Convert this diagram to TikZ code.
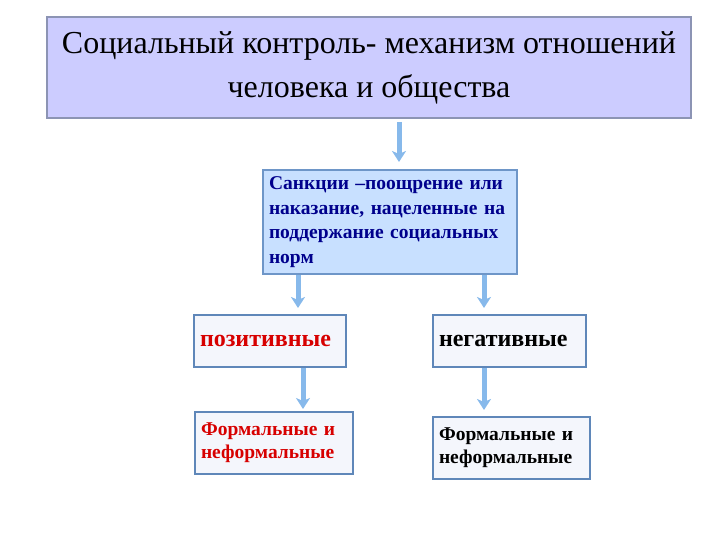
\documentclass[tikz,border=0pt]{standalone}
\usepackage{fontspec}
\setmainfont{Liberation Serif}
\usetikzlibrary{arrows.meta}

\definecolor{lavenderfill}{RGB}{204,204,255}
\definecolor{lavenderline}{RGB}{140,148,180}
\definecolor{sanctfill}{RGB}{200,224,255}
\definecolor{sanctline}{RGB}{110,150,200}
\definecolor{kindfill}{RGB}{244,246,252}
\definecolor{kindline}{RGB}{95,135,185}
\definecolor{arrowblue}{RGB}{135,185,235}
\definecolor{darkblue}{RGB}{0,0,140}
\definecolor{redtext}{RGB}{215,0,0}

\tikzset{
  titlebox/.style={draw=lavenderline, line width=2pt, fill=lavenderfill, align=center,
    font=\fontsize{32}{44}\selectfont, inner sep=0pt},
  sanctbox/.style={draw=sanctline, line width=2pt, fill=sanctfill, align=left,
    font=\fontsize{19.5}{24.5}\selectfont\bfseries, text=darkblue, inner sep=6pt},
  kindbox/.style={draw=kindline, line width=2pt, fill=kindfill, align=left, inner sep=6pt},
  arr/.style={-{Stealth[width=14pt,length=11pt,inset=3pt]}, line width=5pt, draw=arrowblue}
}

\begin{document}
\begin{tikzpicture}[x=1pt, y=-1pt]
    \useasboundingbox (0,0) rectangle (720,540);
    % Titulo
    \node[titlebox, minimum width=644pt, minimum height=101pt] (title) at (369,67.5)
        {Социальный контроль- механизм отношений\\человека и общества};

    % Sancoes
    \node[sanctbox, minimum width=254pt, minimum height=104pt, text width=242pt] (sanct) at (390,222)
        {Санкции –поощрение или\\наказание, нацеленные на\\поддержание социальных\\норм};

    % Tipos de sancoes
    \node[kindbox, minimum width=152pt, minimum height=52pt, text width=140pt,
        font=\fontsize{24}{28}\selectfont\bfseries, text=redtext] (pos) at (270,341) {позитивные};
    \node[kindbox, minimum width=153pt, minimum height=52pt, text width=141pt,
        font=\fontsize{24}{28}\selectfont\bfseries] (neg) at (509.5,341) {негативные};

    % Formais e informais
    \node[kindbox, minimum width=158pt, minimum height=62pt, text width=146pt,
        font=\fontsize{19.5}{23}\selectfont\bfseries, text=redtext] (posform) at (274,443)
        {Формальные и\\неформальные};
    \node[kindbox, minimum width=157pt, minimum height=62pt, text width=145pt,
        font=\fontsize{19.5}{23}\selectfont\bfseries] (negform) at (511.5,448)
        {Формальные и\\неформальные};

    % Setas
    \draw[arr, shorten <=3pt, shorten >=7pt] (title.south -| 399,0) -- (sanct.north -| 399,0);
    \draw[arr, shorten >=6pt] (sanct.south -| 298,0) -- (pos.north -| 298,0);
    \draw[arr, shorten >=6pt] (sanct.south -| 484,0) -- (neg.north -| 484,0);
    \draw[arr, shorten >=2pt] (pos.south -| 303,0) -- (posform.north -| 303,0);
    \draw[arr, shorten >=6pt] (neg.south -| 484,0) -- (negform.north -| 484,0);
\end{tikzpicture}
\end{document}
